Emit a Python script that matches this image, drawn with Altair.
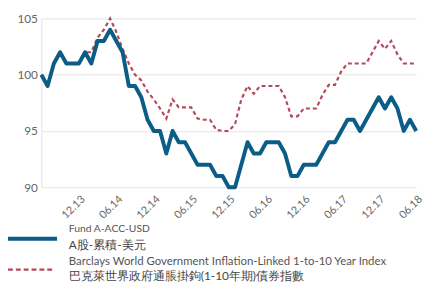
import altair as alt
import pandas as pd

# Monthly points, 06.13 .. 06.18 (index 0..60)
fund = [100, 99, 101, 102, 101, 101, 101, 102, 101, 103,
        103, 104, 103, 102, 99, 99, 98, 96, 95, 95,
        93, 95, 94, 94, 93, 92, 92, 92, 91, 91,
        90, 90, 92, 94, 93, 93, 94, 94, 94, 93,
        91, 91, 92, 92, 92, 93, 94, 94, 95, 96,
        96, 95, 96, 97, 98, 97, 98, 97, 95, 96, 95]
index = [100, 99, 101, 102, 101, 101, 101, 102, 102, 103.3,
         104, 105, 103.8, 102.3, 101, 100, 99.5, 98.5, 97.8, 97,
         96.1, 97.8, 97.1, 97.1, 97.1, 96.1, 96, 96, 95.1, 95,
         95, 95.6, 97.8, 99, 98.3, 99, 99, 99, 99, 98,
         96.3, 96.3, 97, 97, 97, 98.2, 99.1, 99.1, 100.3, 101,
         101, 101, 101, 102, 103, 102.3, 103, 101.8, 101, 101, 101]
months = list(range(len(fund)))

tick_pos = [6, 12, 18, 24, 30, 36, 42, 48, 54, 60]
tick_labels = ["12.13", "06.14", "12.14", "06.15", "12.15",
               "06.16", "12.16", "06.17", "12.17", "06.18"]
y_ticks = [90, 95, 100, 105]

fund_name_en = "Fund A-ACC-USD"
fund_name_zh = "A股-累積-美元"
idx_name_en = "Barclays World Government Inflation-Linked 1-to-10 Year Index"
idx_name_zh = "巴克萊世界政府通脹掛鉤(1-10年期)債券指數"

FUND_C = "#0b5d87"
IDX_C = "#b5485b"
FONT = "Lato"

df = pd.DataFrame({"m": months, "fund": fund, "index": index})

label_arr = "[" + ",".join("'%s'" % t for t in tick_labels) + "]"
label_expr = label_arr + "[round(datum.value/6)-1]"

x_enc = alt.X("m:Q", scale=alt.Scale(domain=[0, 60], nice=False, zero=False),
              axis=alt.Axis(values=tick_pos, labelExpr=label_expr, labelAngle=-45,
                            grid=False, ticks=False, domain=False, title=None,
                            labelFontSize=11, labelColor="#666", labelFont=FONT,
                            labelPadding=6, labelAlign="right", labelBaseline="top"))
y_scale = alt.Scale(domain=[90, 105], nice=False, zero=False)

base = alt.Chart(df)

idx_line = base.mark_line(color=IDX_C, strokeWidth=2.2, strokeDash=[4, 3]).encode(
    x=x_enc,
    y=alt.Y("index:Q", scale=y_scale,
            axis=alt.Axis(values=y_ticks, grid=True, gridColor="#e3e3e3", ticks=False,
                          domain=True, domainColor="#e3e3e3", title=None,
                          labelFontSize=12, labelColor="#666", labelFont=FONT,
                          labelPadding=4)),
)
fund_line = base.mark_line(color=FUND_C, strokeWidth=4, strokeJoin="round").encode(
    x=alt.X("m:Q"), y=alt.Y("fund:Q", scale=y_scale)
)

one = alt.Data(values=[{"a": 1}])

def txt(s, x, y, size, color):
    return alt.Chart(one).mark_text(align="left", baseline="middle", fontSize=size,
                                    color=color, font=FONT).encode(
        x=alt.value(x), y=alt.value(y), text=alt.value(s))

leg_fund = alt.Chart(one).mark_rule(color=FUND_C, strokeWidth=4).encode(
    x=alt.value(-34), x2=alt.value(16), y=alt.value(224.5))
leg_idx = alt.Chart(one).mark_rule(color=IDX_C, strokeWidth=2.2, strokeDash=[5, 3]).encode(
    x=alt.value(-34), x2=alt.value(14), y=alt.value(256))

chart = alt.layer(
    idx_line, fund_line,
    leg_fund, leg_idx,
    txt(fund_name_en, 28, 215, 10.5, "#555"),
    txt(fund_name_zh, 28, 231, 12, "#444"),
    txt(idx_name_en, 28, 248, 11.6, "#555"),
    txt(idx_name_zh, 28, 263, 12, "#444"),
).properties(
    width=382, height=172,
    autosize=alt.AutoSizeParams(type="none"),
    padding={"left": 34, "top": 8, "right": 11, "bottom": 99},
).configure_view(stroke=None)

chart.save("out.html", embed_options={"renderer": "svg", "actions": False})
